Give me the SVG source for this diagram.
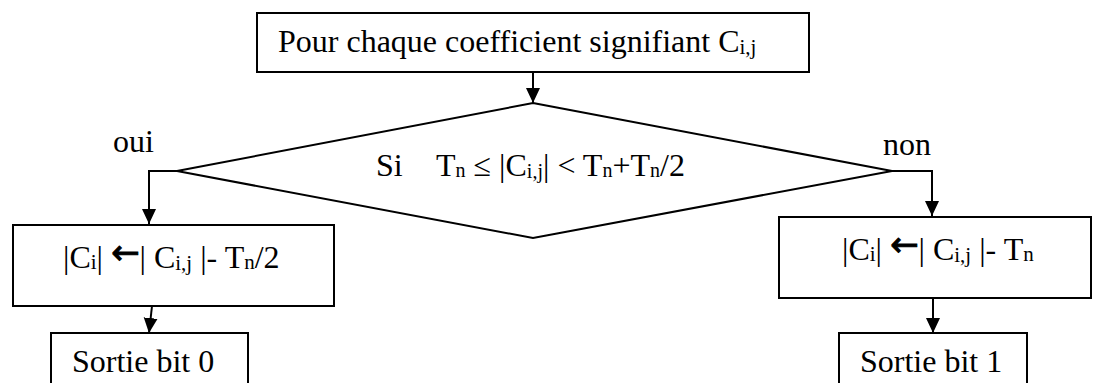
<svg xmlns="http://www.w3.org/2000/svg" width="1093" height="383" viewBox="0 0 1093 383">
<style>
.box{fill:#fff;stroke:#000;stroke-width:2}
.t{font-family:"Liberation Serif","Times New Roman",serif;font-size:32px;fill:#000}
.s{font-size:21px}
.ar{font-family:"DejaVu Sans",sans-serif;font-size:34px;stroke:#000;stroke-width:1}
.c{fill:none;stroke:#000;stroke-width:2}
</style>
<defs>
<marker id="ah" markerWidth="15" markerHeight="15" refX="15" refY="7" orient="auto" markerUnits="userSpaceOnUse" viewBox="0 0 15 14">
<path d="M0,0 L15,7 L0,14 Z" fill="#000"/>
</marker>
</defs>
<rect width="1093" height="383" fill="#fff"/>
<g id="connectors">
<line class="c" x1="533" y1="73" x2="533" y2="103" marker-end="url(#ah)"/>
<polyline class="c" points="177,171 149,171 149,224" marker-end="url(#ah)"/>
<polyline class="c" points="892,171 932,171 932,216" marker-end="url(#ah)"/>
<line class="c" x1="152" y1="306" x2="149" y2="333" marker-end="url(#ah)"/>
<line class="c" x1="933" y1="298" x2="933" y2="333" marker-end="url(#ah)"/>
</g>
<g id="start">
<rect class="box" x="257" y="13" width="552" height="59"/>
<text class="t" x="278" y="52">Pour chaque coefficient signifiant C<tspan class="s" dy="2">i,j</tspan></text>
</g>
<g id="decision">
<polygon class="box" points="533,103 892,171 533,238 177,171"/>
<text class="t" y="176"><tspan x="376">Si</tspan><tspan x="436">T</tspan><tspan font-size="20" dy="1">n</tspan><tspan dy="-1"> ≤ |C</tspan><tspan font-size="20" dy="2">i,j</tspan><tspan dy="-2">| &lt; T</tspan><tspan font-size="20" dy="1">n</tspan><tspan dy="-1">+T</tspan><tspan font-size="20" dy="1">n</tspan><tspan dy="-1">/2</tspan></text>
</g>
<g id="label-oui"><text class="t" x="113" y="152">oui</text></g>
<g id="label-non"><text class="t" x="883" y="155">non</text></g>
<g id="update-yes">
<rect class="box" x="13" y="225" width="321" height="81"/>
<text class="t" x="63" y="268">|C<tspan class="s" dy="1">i</tspan><tspan dy="-1">| </tspan><tspan class="ar" dy="-4">←</tspan><tspan dy="4">| C</tspan><tspan class="s" dy="2">i,j</tspan><tspan dy="-2"> |- T</tspan><tspan class="s" dy="1">n</tspan><tspan dy="-1">/2</tspan></text>
</g>
<g id="update-no">
<rect class="box" x="779" y="217" width="312" height="81"/>
<text class="t" x="842" y="260">|C<tspan class="s" dy="1">i</tspan><tspan dy="-1">| </tspan><tspan class="ar" dy="-4">←</tspan><tspan dy="4">| C</tspan><tspan class="s" dy="2">i,j</tspan><tspan dy="-2"> |- T</tspan><tspan class="s" dy="1">n</tspan></text>
</g>
<g id="out0">
<rect class="box" x="51" y="333" width="197" height="60"/>
<text class="t" x="72" y="372">Sortie bit 0</text>
</g>
<g id="out1">
<rect class="box" x="839" y="333" width="188" height="60"/>
<text class="t" x="860" y="372">Sortie bit 1</text>
</g>
</svg>
